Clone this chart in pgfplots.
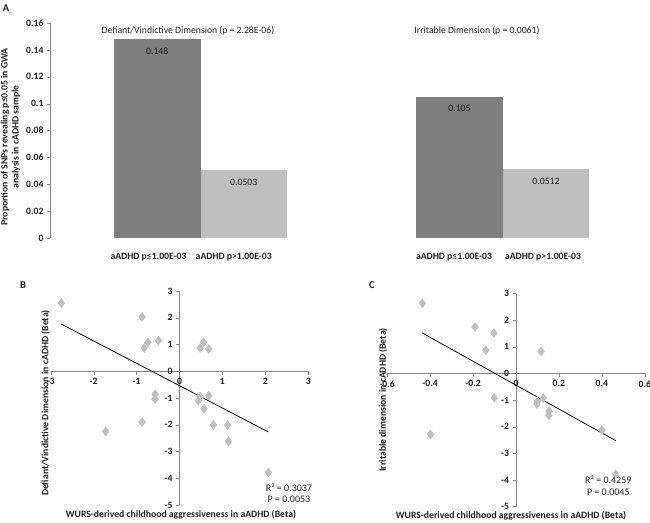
\documentclass[border=0pt]{standalone}
\usepackage{pgfplots}
\pgfplotsset{compat=1.18}
\usepackage{fontspec}
\setmainfont{Carlito}
\definecolor{darkbar}{RGB}{127,127,127}
\definecolor{lightbar}{RGB}{191,191,191}
\definecolor{axgray}{RGB}{134,134,134}
\definecolor{txt}{RGB}{30,30,30}
\definecolor{ptgray}{RGB}{190,190,190}
\newcommand{\fs}{\fontsize{9.7}{11}\selectfont}
\newcommand{\fr}{\fontsize{10}{11.5}\selectfont}
\begin{document}
\begin{tikzpicture}
\useasboundingbox (0,0) rectangle (650pt,-522pt);
\pgfplotsset{
  ticklab/.style={font=\bfseries\fs, text=txt},
}
% ---------- Panel A, left
\begin{axis}[at={(50pt,-238pt)}, anchor=south west, scale only axis,
  width=301pt, height=215pt,
  xmin=-1.24, xmax=2.24, ymin=0, ymax=0.16,
  axis x line=none, axis y line*=left,
  axis line style={draw=axgray,-},
  ytick={0,0.02,0.04,0.06,0.08,0.1,0.12,0.14,0.16},
  yticklabels={0,0.02,0.04,0.06,0.08,0.1,0.12,0.14,0.16},
  tick align=outside, major tick length=3pt, tick style={draw=axgray},
  yticklabel style={ticklab},
  ybar, bar width=1, bar shift=0pt]
\addplot[fill=darkbar, draw=none] coordinates {(0,0.148)};
\addplot[fill=lightbar, draw=none] coordinates {(1,0.0503)};
\node[anchor=north, font=\fs, text=txt] at (axis cs:0,0.148) [yshift=-5pt] {0.148};
\node[anchor=north, font=\fs, text=txt] at (axis cs:1,0.0503) [yshift=-5pt] {0.0503};
\end{axis}
% ---------- Panel A, right
\begin{axis}[at={(381.65pt,-238pt)}, anchor=south west, scale only axis,
  width=242.2pt, height=215pt,
  xmin=-0.9, xmax=1.9, ymin=0, ymax=0.16, hide axis,
  ybar, bar width=1, bar shift=0pt]
\addplot[fill=darkbar, draw=none] coordinates {(0,0.105)};
\addplot[fill=lightbar, draw=none] coordinates {(1,0.0512)};
\node[anchor=north, font=\fs, text=txt] at (axis cs:0,0.105) [yshift=-5pt] {0.105};
\node[anchor=north, font=\fs, text=txt] at (axis cs:1,0.0512) [yshift=-5pt] {0.0512};
\end{axis}
% Panel A texts
\node[font=\bfseries\fontsize{10.5}{12}\selectfont, text=txt] at (6pt,-8pt) {A};
\node[font=\fs, text=txt] at (188pt,-31pt) {Defiant/Vindictive Dimension (p = 2.28E-06)};
\node[font=\fs, text=txt] at (477pt,-31pt) {Irritable Dimension (p = 0.0061)};
\node[font=\bfseries\fs, text=txt, rotate=90, align=center] at (10.5pt,-137pt) {Proportion of SNPs revealing p≤0.05 in GWA\\analysis in cADHD sample};
\node[font=\bfseries\fs, text=txt] at (148.5pt,-257pt) {aADHD p≤1.00E-03};
\node[font=\bfseries\fs, text=txt] at (233.7pt,-257pt) {aADHD p>1.00E-03};
\node[font=\bfseries\fs, text=txt] at (454pt,-257pt) {aADHD p≤1.00E-03};
\node[font=\bfseries\fs, text=txt] at (543pt,-257pt) {aADHD p>1.00E-03};
% ---------- Panel B
\begin{axis}[at={(50.7pt,-505pt)}, anchor=south west, scale only axis,
  width=257.6pt, height=214pt,
  xmin=-3, xmax=3, ymin=-5, ymax=3,
  axis lines=middle, axis line style={draw=axgray,-},
  xtick={-3,-2,-1,0,1,2,3}, ytick={-5,-4,-3,-2,-1,0,1,2,3},
  hide obscured x ticks=false, hide obscured y ticks=false,
  tick align=outside, major tick length=3.5pt, tick style={draw=axgray},
  ticklabel style={ticklab},
  /pgf/number format/assume math mode=true,
  clip=false]
\addplot[only marks, mark=diamond*, mark size=4.5pt, color=ptgray] table {
x y
-2.75 2.55
-0.87 2.03
-0.74 1.08
-0.82 0.87
-0.49 1.15
0.56 1.08
0.48 0.87
0.68 0.83
-1.72 -2.25
-0.87 -1.90
-0.57 -0.86
-0.57 -1.05
0.68 -0.91
0.48 -0.95
0.44 -1.10
0.57 -1.40
0.79 -2.01
1.12 -2.01
1.14 -2.62
2.07 -3.78
};
\addplot[black, line width=0.8pt] coordinates {(-2.76,1.77) (2.07,-2.27)};
\node[align=center, font=\fr, text=txt] at (axis cs:2.55,-4.55) {R² = 0.3037\\P = 0.0053};
\end{axis}
\node[font=\bfseries\fontsize{10.5}{12}\selectfont, text=txt] at (23pt,-285pt) {B};
\node[font=\bfseries\fs, text=txt, rotate=90] at (45.5pt,-403pt) {Defiant/Vindictive Dimension in cADHD (Beta)};
\node[font=\bfseries\fs, text=txt] at (181pt,-515pt) {WURS-derived childhood aggressiveness in aADHD (Beta)};
% ---------- Panel C
\begin{axis}[at={(387.2pt,-506.5pt)}, anchor=south west, scale only axis,
  width=257.6pt, height=213pt,
  xmin=-0.6, xmax=0.6, ymin=-5, ymax=3,
  axis lines=middle, axis line style={draw=axgray,-},
  xtick={-0.6,-0.4,-0.2,0,0.2,0.4,0.6},
  xticklabels={-0.6,-0.4,-0.2,0,0.2,0.4,0.6},
  ytick={-5,-4,-3,-2,-1,0,1,2,3},
  hide obscured x ticks=false, hide obscured y ticks=false,
  tick align=outside, major tick length=3.5pt, tick style={draw=axgray},
  ticklabel style={ticklab},
  /pgf/number format/assume math mode=true,
  clip=false]
\addplot[only marks, mark=diamond*, mark size=4.5pt, color=ptgray] table {
x y
-0.436 2.63
-0.191 1.74
-0.103 1.51
-0.141 0.87
0.117 0.82
-0.101 -0.92
-0.398 -2.29
0.127 -0.93
0.100 -1.05
0.097 -1.15
0.155 -1.42
0.153 -1.58
0.400 -2.13
0.465 -3.78
};
\addplot[black, line width=0.8pt] coordinates {(-0.437,1.52) (0.465,-2.53)};
\node[align=center, font=\fr, text=txt] at (axis cs:0.43,-4.22) {R² = 0.4259\\P = 0.0045};
\end{axis}
\node[font=\bfseries\fontsize{10.5}{12}\selectfont, text=txt] at (372pt,-285pt) {C};
\node[font=\bfseries\fs, text=txt, rotate=90] at (383pt,-400pt) {Irritable dimension in cADHD (Beta)};
\node[font=\bfseries\fs, text=txt] at (511pt,-516pt) {WURS-derived childhood aggressiveness in aADHD (Beta)};
\end{tikzpicture}
\end{document}
